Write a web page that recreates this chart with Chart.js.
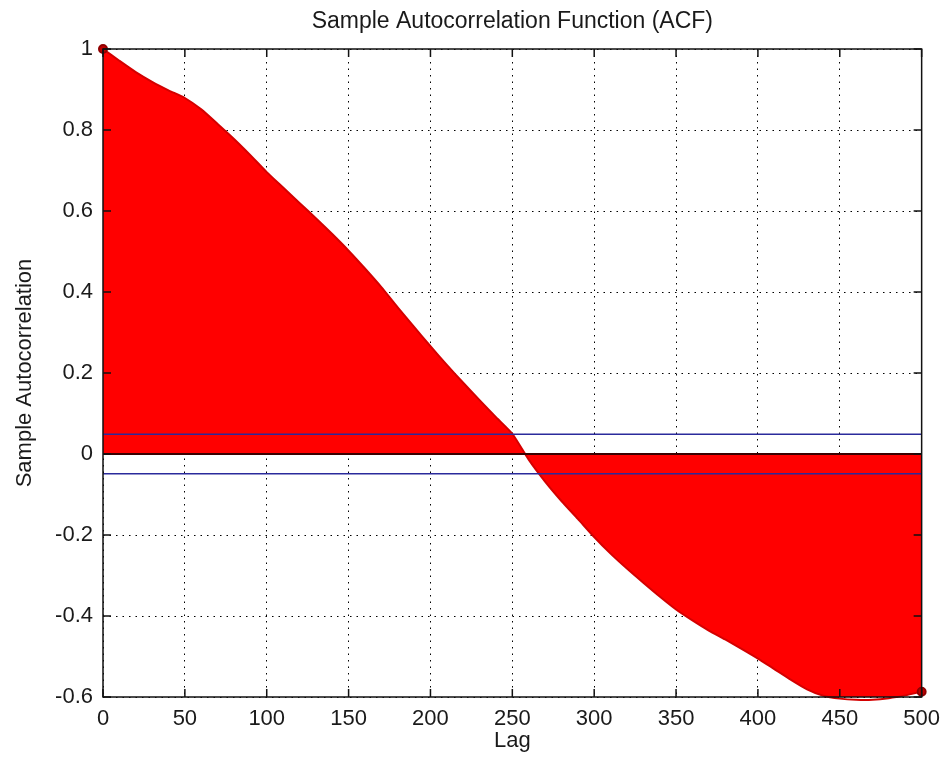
<!DOCTYPE html>
<html>
<head>
<meta charset="utf-8">
<title>Sample ACF</title>
<script src="https://cdn.jsdelivr.net/npm/chart.js@4/dist/chart.umd.min.js"></script>
<style>
  html, body { margin: 0; padding: 0; background: #fff; }
</style>
</head>
<body>
<canvas id="acfChart" width="949" height="769"></canvas>
<script>
// lag positions and sample autocorrelation read at every 10th lag
var lags = [0, 10, 20, 30, 40, 50, 60, 70, 80, 90,
            100, 110, 120, 130, 140, 150, 160, 170, 180, 190,
            200, 210, 220, 230, 240, 250, 260, 270, 280, 290,
            300, 310, 320, 330, 340, 350, 360, 370, 380, 390,
            400, 410, 420, 430, 440, 450, 460, 470, 480, 490, 500];
var acf = [1.000, 0.971, 0.943, 0.919, 0.898, 0.879, 0.851, 0.815, 0.778, 0.738,
           0.696, 0.658, 0.620, 0.582, 0.543, 0.502, 0.458, 0.412, 0.362, 0.314,
           0.266, 0.220, 0.176, 0.133, 0.091, 0.050, -0.014, -0.068, -0.116, -0.160,
           -0.205, -0.246, -0.283, -0.318, -0.352, -0.384, -0.411, -0.436, -0.458, -0.481,
           -0.505, -0.531, -0.557, -0.581, -0.597, -0.604, -0.607, -0.607, -0.603, -0.596, -0.587];
var xTicks = [0, 50, 100, 150, 200, 250, 300, 350, 400, 450, 500];
var yTicks = [-0.6, -0.4, -0.2, 0, 0.2, 0.4, 0.6, 0.8, 1];
var confBound = 0.049;

var fontFamily = "'Liberation Sans', Arial, sans-serif";
var textColor = "#1a1a1a";

// box round the plot with inward tick marks on all four sides
var axesBox = {
  id: "axesBox",
  afterDraw: function(chart) {
    var ctx = chart.ctx;
    var a = chart.chartArea;
    var xs = chart.scales.x;
    var ys = chart.scales.y;
    ctx.save();
    ctx.strokeStyle = "#111";
    ctx.lineWidth = 1.5;
    ctx.strokeRect(a.left, a.top, a.right - a.left, a.bottom - a.top);
    ctx.beginPath();
    xTicks.forEach(function(v) {
      var px = xs.getPixelForValue(v);
      ctx.moveTo(px, a.bottom);
      ctx.lineTo(px, a.bottom - 8);
      ctx.moveTo(px, a.top);
      ctx.lineTo(px, a.top + 8);
    });
    yTicks.forEach(function(v) {
      var py = ys.getPixelForValue(v);
      ctx.moveTo(a.left, py);
      ctx.lineTo(a.left + 8, py);
      ctx.moveTo(a.right, py);
      ctx.lineTo(a.right - 8, py);
    });
    ctx.stroke();
    ctx.restore();
  }
};

var acfPoints = lags.map(function(l, i) { return { x: l, y: acf[i] }; });

new Chart(document.getElementById("acfChart"), {
  type: "line",
  data: {
    datasets: [
      {
        label: "upper bound",
        data: [{ x: 0, y: confBound }, { x: 500, y: confBound }],
        borderColor: "#2b2b9c",
        borderWidth: 1.5,
        pointRadius: 0,
        fill: false,
        order: 0
      },
      {
        label: "lower bound",
        data: [{ x: 0, y: -confBound }, { x: 500, y: -confBound }],
        borderColor: "#2b2b9c",
        borderWidth: 1.5,
        pointRadius: 0,
        fill: false,
        order: 0
      },
      {
        label: "baseline",
        data: [{ x: 0, y: 0 }, { x: 500, y: 0 }],
        borderColor: "#3a0000",
        borderWidth: 2,
        pointRadius: 0,
        fill: false,
        order: 1
      },
      {
        label: "ACF",
        data: acfPoints,
        backgroundColor: "#ff0000",
        borderColor: "#d40000",
        borderWidth: 2,
        tension: 0.2,
        fill: "origin",
        clip: 8,
        pointRadius: function(c) {
          return (c.dataIndex === 0 || c.dataIndex === lags.length - 1) ? 4 : 0;
        },
        pointBackgroundColor: "#c00000",
        pointBorderColor: "#900000",
        order: 2
      }
    ]
  },
  options: {
    responsive: false,
    animation: false,
    layout: { padding: { left: 0, right: 26, top: 0, bottom: 0 } },
    plugins: {
      legend: { display: false },
      tooltip: { enabled: false },
      title: {
        display: true,
        fullSize: false,
        text: "Sample Autocorrelation Function (ACF)",
        color: textColor,
        font: { family: fontFamily, size: 23, weight: "normal" },
        padding: { top: 8, bottom: 13.4 }
      }
    },
    scales: {
      x: {
        type: "linear",
        min: 0,
        max: 500,
        afterBuildTicks: function(s) { s.ticks = xTicks.map(function(v) { return { value: v }; }); },
        afterFit: function(s) { s.height = 72; },
        grid: { color: "#000", lineWidth: 1, drawTicks: false },
        border: { display: false, dash: [1.5, 5] },
        ticks: {
          padding: 9,
          color: textColor,
          maxRotation: 0,
          autoSkip: false,
          font: { family: fontFamily, size: 22 }
        },
        title: {
          display: true,
          text: "Lag",
          color: textColor,
          font: { family: fontFamily, size: 22 },
          padding: { top: 0, bottom: 15 }
        }
      },
      y: {
        type: "linear",
        min: -0.6,
        max: 1,
        afterBuildTicks: function(s) { s.ticks = yTicks.map(function(v) { return { value: v }; }); },
        afterFit: function(s) { s.width = 103; },
        grid: { color: "#000", lineWidth: 1, drawTicks: false },
        border: { display: false, dash: [1.5, 5] },
        ticks: {
          padding: 10,
          color: textColor,
          font: { family: fontFamily, size: 22 },
          callback: function(v) { return String(Number(v.toFixed(1))); }
        },
        title: {
          display: true,
          text: "Sample Autocorrelation",
          color: textColor,
          font: { family: fontFamily, size: 22 },
          padding: { top: 12, bottom: 0 }
        }
      }
    }
  },
  plugins: [axesBox]
});
</script>
</body>
</html>
